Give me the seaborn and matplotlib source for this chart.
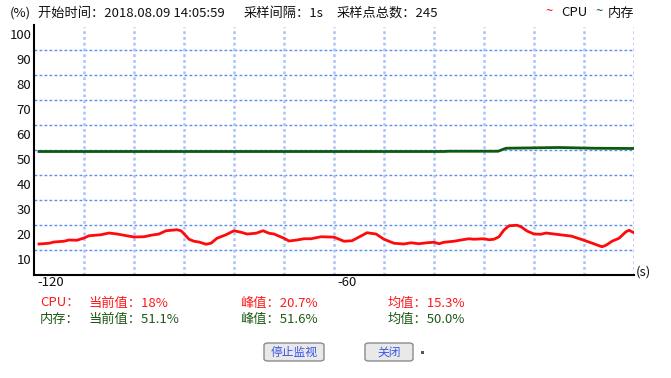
import matplotlib
matplotlib.use("Agg")
import matplotlib.pyplot as plt
import matplotlib.transforms as mtransforms
from matplotlib.patches import FancyBboxPatch, Rectangle
import seaborn as sns
import pandas as pd

plt.rcParams['font.family'] = ['Noto Sans CJK SC', 'DejaVu Sans']

# ---------------- data ----------------
cpu_t = [-119, -117, -116, -114, -113, -111.4, -110, -109, -106.6, -105, -103.4, -102,
         -100, -98, -96.6, -95, -93.6, -91.4, -90.6, -90, -89, -88, -87, -85.6, -84.6,
         -83.4, -81.6, -80, -78.6, -77.4, -75.6, -74.2, -73, -72, -70, -69, -67.4, -66,
         -64.6, -62.6, -60, -58, -56.4, -54.6, -53.4, -51.6, -50, -48, -46, -44.6, -43,
         -41.4, -40, -39, -38, -36, -34.6, -33, -32, -30, -29, -28, -27, -26, -25, -23.4,
         -22.6, -21.4, -20, -18.6, -17.6, -16, -14, -12.6, -10.6, -8.6, -6.4, -5.6, -4.4,
         -3, -1.6, -1, 0]
cpu = [12.4, 12.7, 13.2, 13.5, 14.0, 13.9, 14.8, 15.7, 16.1, 16.8, 16.4, 15.9,
       15.2, 15.3, 15.9, 16.4, 17.7, 18.1, 17.7, 16.5, 14.3, 13.5, 13.2, 12.3, 12.7,
       14.7, 16.1, 17.7, 17.1, 16.4, 16.7, 17.7, 16.7, 16.4, 14.7, 13.6, 14.0, 14.5,
       14.5, 15.3, 15.15, 13.5, 13.7, 15.6, 16.9, 16.4, 14.3, 12.7, 12.4, 12.9, 12.5,
       12.9, 13.1, 12.5, 13.1, 13.5, 14.0, 14.5, 14.3, 14.5, 14.1, 14.3, 15.3, 18.0, 19.7, 19.9,
       19.3, 17.6, 16.4, 16.3, 16.8, 16.4, 15.9, 15.6, 14.3, 12.9, 11.3, 11.9, 13.5,
       14.7, 17.3, 17.9, 16.9]

mem_t = [-119, -38, -37, -27.2, -25.6, -15, -8, 0]
mem = [49.4, 49.4, 49.5, 49.5, 50.7, 51.0, 50.7, 50.6]

y_ticks = [10, 20, 30, 40, 50, 60, 70, 80, 90, 100]
h_grid = [10, 20, 30, 40, 50, 60, 70, 80, 90]
v_grid = [-110, -100, -90, -80, -70, -60, -50, -40, -30, -20, -10, 0]
x_ticks = [-120, -60]
x_ticklabels = ["-120", "-60"]

header = [("(%)", 10), ("开始时间：2018.08.09 14:05:59", 38), ("采样间隔：1s", 244), ("采样点总数：245", 337)]
stats_cpu = ["CPU：", "当前值：18%", "峰值：20.7%", "均值：15.3%"]
stats_mem = ["内存：", "当前值：51.1%", "峰值：51.6%", "均值：50.0%"]
stats_x = [40, 88, 240, 388]
buttons = [("停止监视", 264, 324), ("关闭", 365, 413)]

cpu_df = pd.DataFrame({"t": cpu_t, "v": cpu})
mem_df = pd.DataFrame({"t": mem_t, "v": mem})

W, H = 671, 378
fig = plt.figure(figsize=(W / 100, H / 100), dpi=100)
fig.patch.set_facecolor("white")

def fx(x):
    return x / W

def fy(y):
    return 1 - y / H

ax = fig.add_axes([fx(34), fy(275), 600 / W, 250 / H])
ax.set_facecolor("white")
ax.set_xlim(-120, 0)
ax.set_ylim(0, 100)

# grid lines
for v in h_grid:
    ax.axhline(v, color="#5a8ded", lw=1.0, ls=(0, (2, 1.6)), zorder=1)
for v in v_grid:
    ax.axvline(v, ymin=0, ymax=0.992, color="#a9c3fb", lw=1.8, ls=(0, (1.1, 1.2)), zorder=1)

sns.lineplot(data=mem_df, x="t", y="v", ax=ax, color="#0c5a10", lw=2.0, zorder=3, legend=False)
sns.lineplot(data=cpu_df, x="t", y="v", ax=ax, color="#ff0a0a", lw=2.0, zorder=4, legend=False)

ax.set_xlabel("")
ax.set_ylabel("")
for s in ["top", "right"]:
    ax.spines[s].set_visible(False)
for s in ["left", "bottom"]:
    ax.spines[s].set_color("black")
    ax.spines[s].set_linewidth(1.5)

ax.set_yticks(y_ticks)
ax.set_yticklabels([str(v) for v in y_ticks], fontsize=9.5, color="#111111")
ax.tick_params(axis="y", length=0, pad=2)
off_y = mtransforms.ScaledTranslation(0, -9 / 100, fig.dpi_scale_trans)
for lab in ax.get_yticklabels():
    lab.set_transform(lab.get_transform() + off_y)

ax.set_xticks(x_ticks)
ax.set_xticklabels(x_ticklabels, fontsize=9.5, color="#111111", ha="left")
ax.tick_params(axis="x", length=0, pad=1)
off_x = mtransforms.ScaledTranslation(3 / 100, 0, fig.dpi_scale_trans)
for lab in ax.get_xticklabels():
    lab.set_transform(lab.get_transform() + off_x)

# (s) unit
fig.text(fx(636), fy(272), "(s)", fontsize=9.5, va="center", ha="left", color="#111111")

# header
for txt, x in header:
    fig.text(fx(x), fy(13), txt, fontsize=9.5, va="center", ha="left", color="#111111")

# legend
fig.text(fx(545), fy(12), "~", fontsize=9.5, va="center", ha="left", color="#ff0a0a")
fig.text(fx(561), fy(13), "CPU", fontsize=9.5, va="center", ha="left", color="#111111")
fig.text(fx(595), fy(12), "~", fontsize=9.5, va="center", ha="left", color="#0c5a10")
fig.text(fx(608), fy(13), "内存", fontsize=9.5, va="center", ha="left", color="#111111")

# statistics
for txt, x in zip(stats_cpu, stats_x):
    fig.text(fx(x), fy(303), txt, fontsize=9.5, va="center", ha="left", color="#ff1a1a")
for txt, x in zip(stats_mem, stats_x):
    fig.text(fx(x), fy(319), txt, fontsize=9.5, va="center", ha="left", color="#1d5a14")

# buttons
for txt, x0, x1 in buttons:
    box = FancyBboxPatch((fx(x0), fy(361)), fx(x1 - x0), (361 - 343) / H,
                         boxstyle="round,pad=0,rounding_size=0.006",
                         transform=fig.transFigure, facecolor="#e9e9e9",
                         edgecolor="#8c8c8c", lw=1.0)
    fig.patches.append(box)
    fig.text(fx((x0 + x1) / 2), fy(352), txt, fontsize=8.5, va="center", ha="center", color="#3a55e6")

fig.patches.append(Rectangle((fx(421), fy(354)), 3 / W, 3 / H, transform=fig.transFigure,
                             facecolor="#555555", edgecolor="none"))

fig.savefig("out.png", dpi=100, facecolor="white")
